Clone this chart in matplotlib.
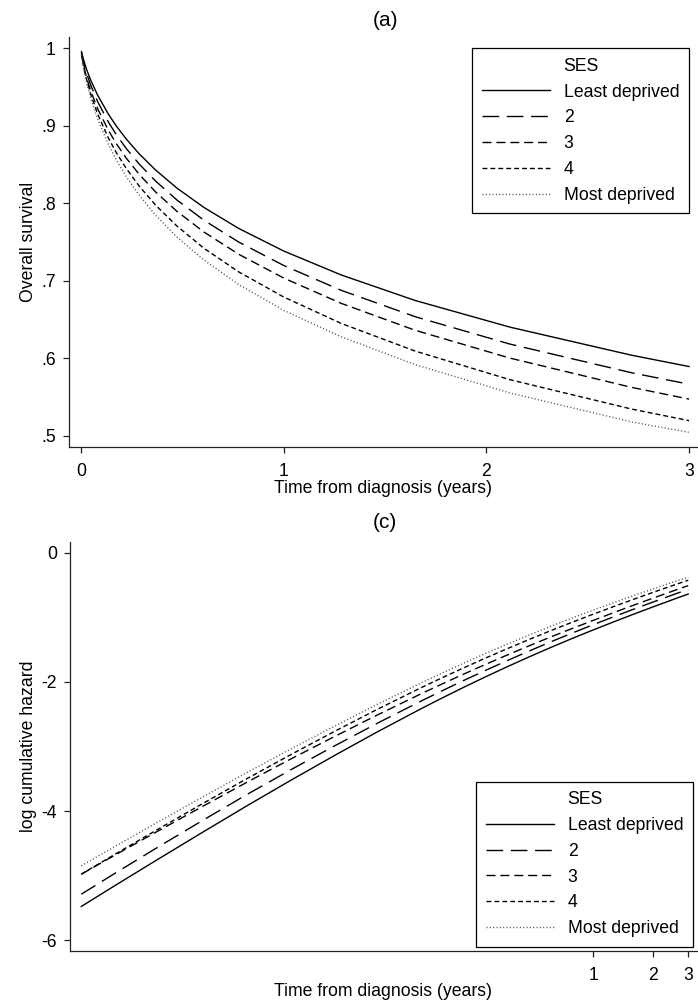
import numpy as np
import matplotlib
matplotlib.use('Agg')
import matplotlib.pyplot as plt

plt.rcParams['font.family'] = ['Liberation Sans', 'DejaVu Sans']

# log of time since diagnosis (years)
log_time = [-5.92, -5.5, -5.0, -4.5, -4.0, -3.5, -3.0, -2.5, -2.0, -1.75, -1.5, -1.25,
            -1.0, -0.75, -0.5, -0.25, 0.0, 0.25, 0.5, 0.75, 1.0, 1.0986]

# log cumulative hazard per SES group
lch_least = [-5.480, -5.131, -4.721, -4.316, -3.916, -3.526, -3.146, -2.776, -2.421, -2.250,
             -2.084, -1.923, -1.767, -1.616, -1.470, -1.329, -1.193, -1.061, -0.932, -0.807,
             -0.684, -0.637]
lch_2 = [-5.290, -4.941, -4.533, -4.133, -3.741, -3.363, -2.997, -2.642, -2.302, -2.138,
         -1.978, -1.823, -1.672, -1.525, -1.383, -1.245, -1.112, -0.982, -0.855, -0.732,
         -0.611, -0.565]
lch_3 = [-4.980, -4.661, -4.286, -3.916, -3.551, -3.196, -2.851, -2.514, -2.189, -2.032,
         -1.879, -1.730, -1.585, -1.444, -1.307, -1.174, -1.045, -0.918, -0.793, -0.672,
         -0.552, -0.506]
lch_4 = [-4.980, -4.647, -4.257, -3.873, -3.495, -3.128, -2.772, -2.426, -2.095, -1.936,
         -1.782, -1.632, -1.487, -1.346, -1.209, -1.077, -0.949, -0.824, -0.702, -0.583,
         -0.467, -0.423]
lch_most = [-4.850, -4.526, -4.146, -3.771, -3.401, -3.041, -2.691, -2.349, -2.021, -1.863,
            -1.710, -1.561, -1.417, -1.277, -1.142, -1.011, -0.885, -0.764, -0.645, -0.530,
            -0.418, -0.379]

groups = ['Least deprived', '2', '3', '4', 'Most deprived']
curves = [lch_least, lch_2, lch_3, lch_4, lch_most]
styles = ['-', (0, (12, 5.5)), (0, (6.5, 3.5)), (0, (3.5, 2.2)), (0, (0.8, 1.6))]
colors = ['black', 'black', 'black', 'black', '#555555']

surv_ticks = [1, 0.9, 0.8, 0.7, 0.6, 0.5]
surv_labels = ['1', '.9', '.8', '.7', '.6', '.5']
lch_ticks = [0, -2, -4, -6]
lch_labels = ['0', '-2', '-4', '-6']
year_ticks = [1, 2, 3]

fs = 12.7
fig = plt.figure(figsize=(6.98, 10.05), dpi=100)
ax1 = fig.add_axes([69 / 698, 1 - 447 / 1005, 628 / 698, 410 / 1005])
ax2 = fig.add_axes([70 / 698, 1 - 951 / 1005, 627 / 698, 409 / 1005])

t = np.exp(log_time)
for lch, ls, c, name in zip(curves, styles, colors, groups):
    ax1.plot(t, np.exp(-np.exp(lch)), ls=ls, color=c, lw=1.0, label=name)
    ax2.plot(log_time, lch, ls=ls, color=c, lw=1.0, label=name)

ax1.set_xlim(-0.059, 3.039)
ax1.set_ylim(0.4854, 1.0146)
ax1.set_xticks([0, 1, 2, 3])
ax1.set_xticklabels(['0', '1', '2', '3'])
ax1.set_yticks(surv_ticks)
ax1.set_yticklabels(surv_labels)
ax1.set_ylabel('Overall survival', fontsize=fs, labelpad=3)
ax1.set_xlabel('Time from diagnosis (years)', fontsize=fs)
ax1.xaxis.set_label_coords(0.5, -0.081)

ax2.set_xlim(-6.05, 1.20)
ax2.set_ylim(-6.17, 0.17)
ax2.set_xticks(np.log(year_ticks))
ax2.set_xticklabels([str(y) for y in year_ticks])
ax2.set_yticks(lch_ticks)
ax2.set_yticklabels(lch_labels)
ax2.set_ylabel('log cumulative hazard', fontsize=fs, labelpad=3)
ax2.set_xlabel('Time from diagnosis (years)', fontsize=fs)
ax2.xaxis.set_label_coords(0.5, -0.078)

for ax in (ax1, ax2):
    ax.spines['top'].set_visible(False)
    ax.spines['right'].set_visible(False)
    for s in ('left', 'bottom'):
        ax.spines[s].set_color('#222222')
        ax.spines[s].set_linewidth(0.9)
    ax.tick_params(direction='out', length=4.5, width=0.9, color='#222222',
                   labelsize=fs)
    ax.tick_params(axis='x', pad=7)
    ax.tick_params(axis='y', pad=5)

fig.text(385 / 698, 1 - 20 / 1005, '(a)', fontsize=15, ha='center', va='center')
fig.text(385 / 698, 1 - 522 / 1005, '(c)', fontsize=15, ha='center', va='center')

leg_kw = dict(title='SES', fontsize=fs, title_fontsize=fs, frameon=True, fancybox=False,
              framealpha=1, edgecolor='black', handlelength=3.9, handletextpad=0.75,
              labelspacing=0.5, borderpad=0.55, borderaxespad=0)
leg1 = ax1.legend(loc='upper right', bbox_to_anchor=(689 / 698, 1 - 48 / 1005),
                  bbox_transform=fig.transFigure, **leg_kw)
leg2 = ax2.legend(loc='lower right', bbox_to_anchor=(693 / 698, 1 - 947 / 1005),
                  bbox_transform=fig.transFigure, **leg_kw)
for leg in (leg1, leg2):
    leg.get_frame().set_linewidth(0.9)

fig.savefig('out.png', dpi=100)
